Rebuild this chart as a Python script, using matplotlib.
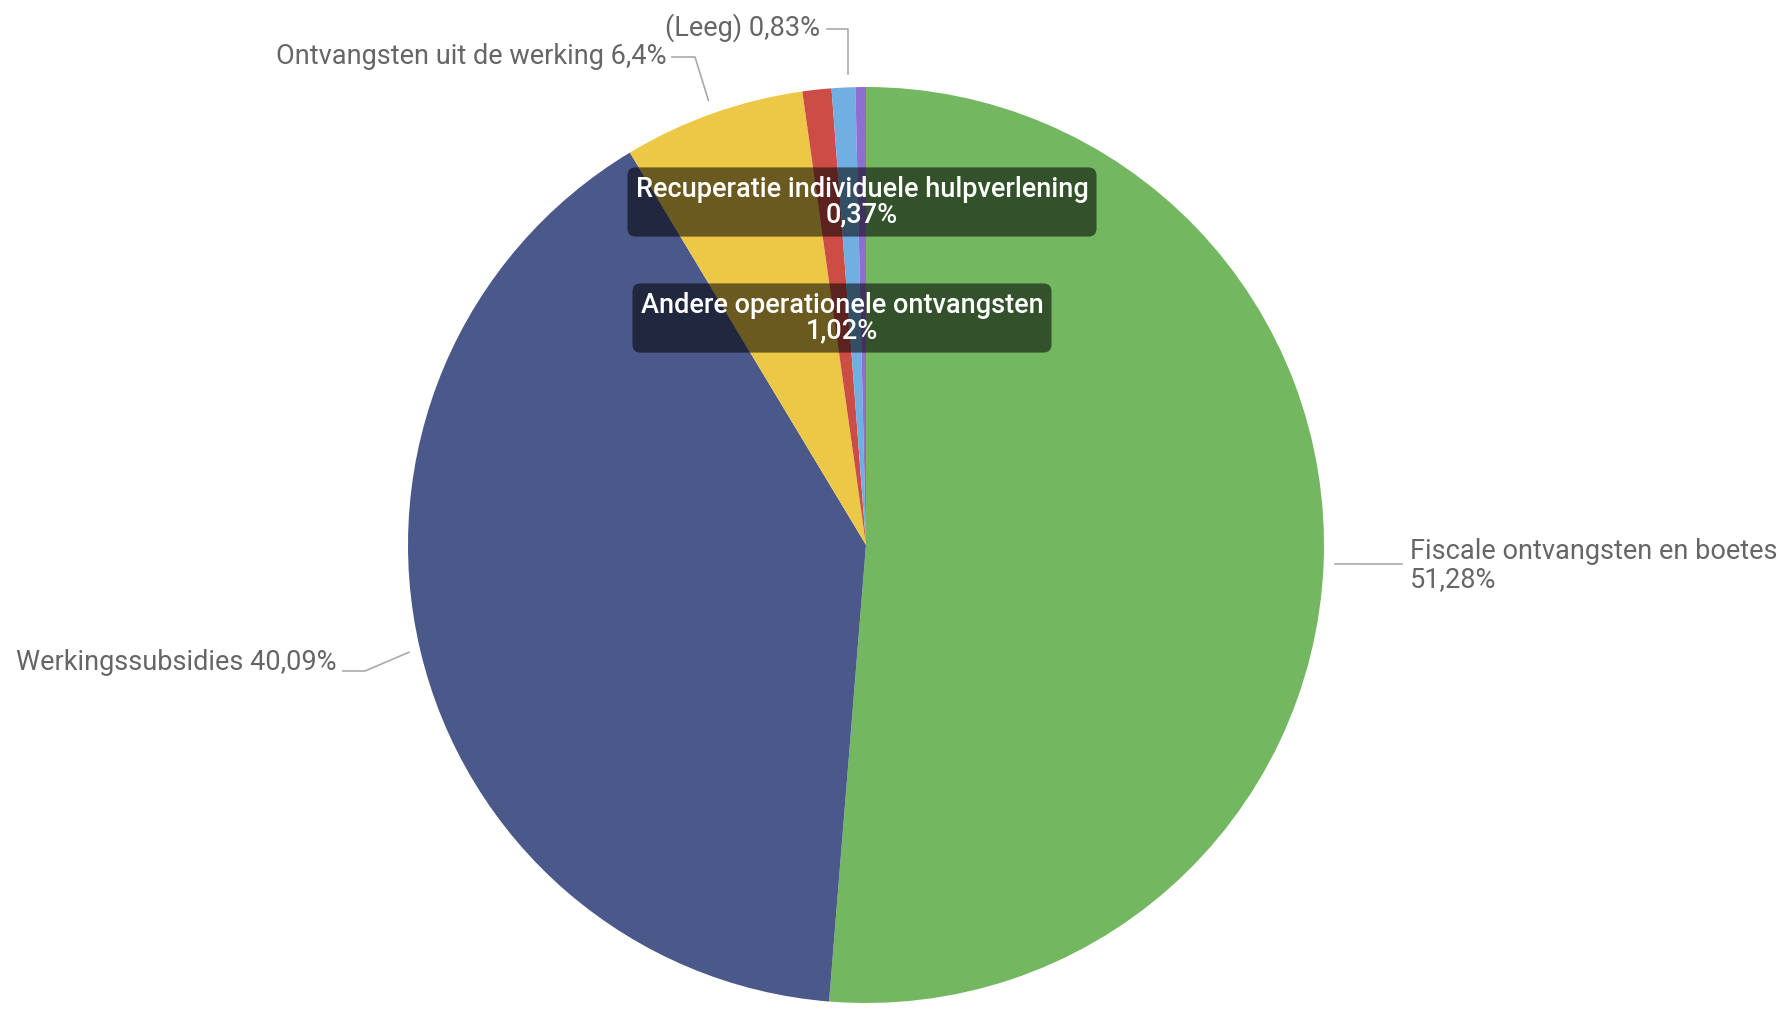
import numpy as np
import matplotlib.pyplot as plt

# data
labels = ['Fiscale ontvangsten en boetes', 'Werkingssubsidies',
          'Ontvangsten uit de werking', 'Andere operationele ontvangsten',
          '(Leeg)', 'Recuperatie individuele hulpverlening']
values = [51.28, 40.09, 6.4, 1.02, 0.83, 0.37]
pct_txt = ['51,28%', '40,09%', '6,4%', '1,02%', '0,83%', '0,37%']
colors = ['#73B761', '#4A588A', '#ECC846', '#CD4C46', '#71AFE2', '#8D6FD1']

W, H = 1787, 1009
cx, cy, R = 866, 545, 458
txtcol = '#666666'

plt.rcParams['font.family'] = ['Roboto', 'DejaVu Sans']

fig = plt.figure(figsize=(W/100, H/100), dpi=100)
ax = fig.add_axes([0, 0, 1, 1])
ax.set_xlim(0, W)
ax.set_ylim(0, H)
ax.set_aspect('equal')
ax.axis('off')

wedges, _ = ax.pie(values, colors=colors, center=(cx, H-cy), radius=R,
                   startangle=90, counterclock=False,
                   wedgeprops=dict(linewidth=0))
ax.set_xlim(0, W)
ax.set_ylim(0, H)

def edge_pt(i, f=1.025):
    w = wedges[i]
    a = np.deg2rad((w.theta1 + w.theta2) / 2)
    return cx + R*f*np.cos(a), (H-cy) + R*f*np.sin(a)

lc = '#aaaaaa'
fs = 19.5

# Fiscale
x0, y0 = edge_pt(0)
ax.plot([x0, 1402], [y0, H-564], color=lc, lw=1.2)
ax.text(1410, H-566, labels[0] + '\n' + pct_txt[0], color=txtcol, fontsize=fs,
        ha='left', va='center', linespacing=1.05)

# Werkingssubsidies
x0, y0 = edge_pt(1)
ax.plot([x0, 365, 343], [y0, H-671, H-671], color=lc, lw=1.2)
ax.text(336, H-663, labels[1] + ' ' + pct_txt[1], color=txtcol, fontsize=fs,
        ha='right', va='center')

# Ontvangsten uit de werking
x0, y0 = edge_pt(2, 1.03)
ax.plot([x0, 695, 672], [y0, H-57, H-57], color=lc, lw=1.2)
ax.text(666, H-57, labels[2] + ' ' + pct_txt[2], color=txtcol, fontsize=fs,
        ha='right', va='center')

# (Leeg)
x0, y0 = edge_pt(4, 1.03)
x0 = x0 + 5
ax.plot([x0, x0, 827], [y0, H-29, H-29], color=lc, lw=1.2)
ax.text(820, H-28, labels[4] + ' ' + pct_txt[4], color=txtcol, fontsize=fs,
        ha='right', va='center')

# labels in boxes
box = dict(boxstyle='round,pad=0.3,rounding_size=0.3', fc='black', alpha=0.55, ec='none')
ax.text(862, H-202, labels[5] + '\n' + pct_txt[5], color='white', fontsize=fs,
        ha='center', va='center', linespacing=0.95, fontweight='medium', bbox=box)
ax.text(842, H-318, labels[3] + '\n' + pct_txt[3], color='white', fontsize=fs,
        ha='center', va='center', linespacing=0.95, fontweight='medium', bbox=box)

fig.savefig('out.png', dpi=100)
